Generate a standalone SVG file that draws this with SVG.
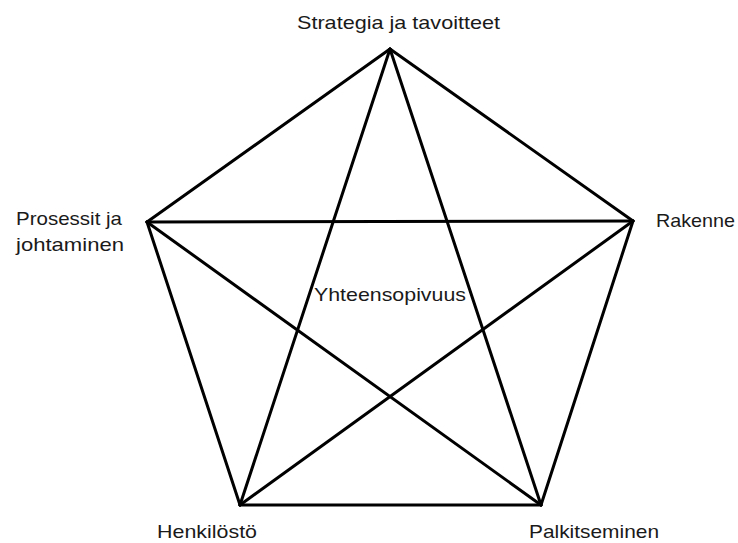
<svg xmlns="http://www.w3.org/2000/svg" width="738" height="543" viewBox="0 0 738 543">
<style>
.e{stroke:#000;stroke-width:3;stroke-linecap:round;fill:none}
.t{font-family:"Liberation Sans","Open Sans",sans-serif;font-size:19px;fill:#1a1a1a}
</style>
<rect width="738" height="543" fill="#fff"/>
<g id="connectors">
<line class="e" x1="390" y1="49" x2="633" y2="221"/>
<line class="e" x1="633" y1="221" x2="541" y2="505"/>
<line class="e" x1="541" y1="505" x2="240" y2="505"/>
<line class="e" x1="240" y1="505" x2="147" y2="222"/>
<line class="e" x1="147" y1="222" x2="390" y2="49"/>
<line class="e" x1="390" y1="49" x2="541" y2="505"/>
<line class="e" x1="390" y1="49" x2="240" y2="505"/>
<line class="e" x1="147" y1="222" x2="633" y2="221"/>
<line class="e" x1="147" y1="222" x2="541" y2="505"/>
<line class="e" x1="633" y1="221" x2="240" y2="505"/>
</g>
<g id="strategia"><text class="t" x="297" y="29" textLength="203" lengthAdjust="spacingAndGlyphs">Strategia ja tavoitteet</text></g>
<g id="rakenne"><text class="t" x="656" y="227" textLength="79" lengthAdjust="spacingAndGlyphs">Rakenne</text></g>
<g id="prosessit"><text class="t" x="16" y="225" textLength="106" lengthAdjust="spacingAndGlyphs">Prosessit ja</text><text class="t" x="16" y="251" textLength="108" lengthAdjust="spacingAndGlyphs">johtaminen</text></g>
<g id="yhteensopivuus"><text class="t" x="314" y="301" textLength="152" lengthAdjust="spacingAndGlyphs">Yhteensopivuus</text></g>
<g id="henkilosto"><text class="t" x="157" y="538" textLength="100" lengthAdjust="spacingAndGlyphs">Henkilöstö</text></g>
<g id="palkitseminen"><text class="t" x="529" y="538" textLength="130" lengthAdjust="spacingAndGlyphs">Palkitseminen</text></g>
</svg>
